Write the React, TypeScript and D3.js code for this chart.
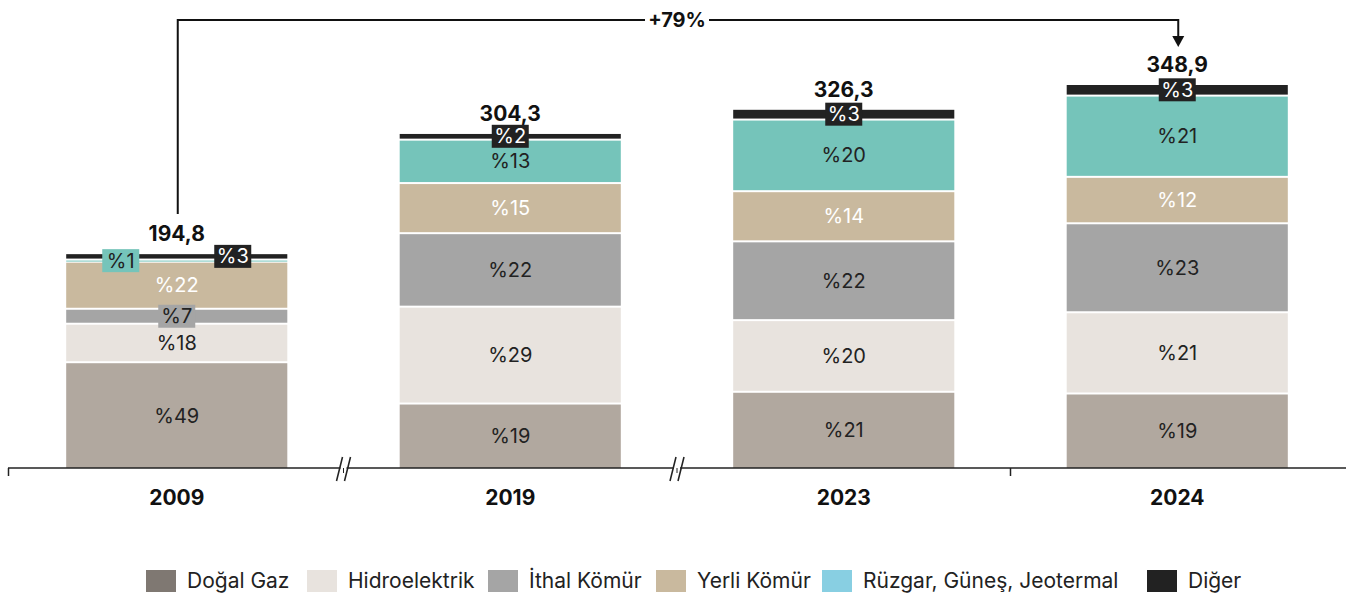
import React from "react";
import * as d3 from "d3";

const years = ["2009", "2019", "2023", "2024"];
const totals = [194.8, 304.3, 326.3, 348.9];
const totalLabels = ["194,8", "304,3", "326,3", "348,9"];
const dogalGaz = [49, 19, 21, 19];
const hidro = [18, 29, 20, 21];
const ithalKomur = [7, 22, 22, 23];
const yerliKomur = [22, 15, 14, 12];
const ruzgar = [1, 13, 20, 21];
const diger = [3, 2, 3, 3];
const seriesNames = ["Doğal Gaz", "Hidroelektrik", "İthal Kömür", "Yerli Kömür", "Rüzgar, Güneş, Jeotermal", "Diğer"];
const changeLabel = "+79%";

const seriesData = [dogalGaz, hidro, ithalKomur, yerliKomur, ruzgar, diger];
const barColors = ["#b1a89f", "#e8e3de", "#a5a5a5", "#c9b99e", "#75c4ba", "#222222"];
const legendColors = ["#7f7872", "#e8e3de", "#a5a5a5", "#c9b99e", "#88cfe2", "#222222"];
const labelColors = ["#222", "#222", "#222", "#fff", "#222", "#fff"];
const legendX = [146, 307, 488, 656, 822, 1147];

const FONT = "Inter, 'Noto Sans', sans-serif";

export default function App() {
  const baseline = 468;
  const x = d3.scaleBand<string>().domain(years).range([10, 1344]).paddingInner(0.337).paddingOuter(0.1685);
  const y = d3.scaleLinear().domain([0, 348.9]).range([baseline, 85]);
  const step = x.step();
  const bw = x.bandwidth();

  const bars: React.ReactNode[] = [];
  const labels: React.ReactNode[] = [];

  years.forEach((yr, j) => {
    const x0 = x(yr)!;
    const cx = x0 + bw / 2;
    const shares = seriesData.map((s) => s[j]);
    const sum = d3.sum(shares);
    let acc = 0;
    shares.forEach((p, i) => {
      const v0 = acc;
      const v1 = acc + (p / sum) * totals[j];
      acc = v1;
      const yTop = y(v1);
      const yBot = i === 0 ? y(v0) : y(v0) - 2;
      const h = Math.max(1, yBot - yTop);
      bars.push(<rect key={`b${j}-${i}`} x={x0} y={yTop} width={bw} height={h} fill={barColors[i]} />);
      const cy = (yTop + yBot) / 2;
      const txt = `%${p}`;
      const small = h < 16;
      let lx = cx;
      if (j === 0 && i === 4) lx = cx - 56;
      if (j === 0 && i === 5) lx = cx + 56;
      if (small) {
        const w = txt.length * 12 + 13;
        labels.push(
          <g key={`l${j}-${i}`}>
            <rect x={lx - w / 2} y={cy - 11.5} width={w} height={23} fill={barColors[i]} />
            <text x={lx} y={cy + 7} textAnchor="middle" fontSize={20} fill={labelColors[i]} fontFamily={FONT}>{txt}</text>
          </g>
        );
      } else {
        labels.push(
          <text key={`l${j}-${i}`} x={lx} y={cy + 7} textAnchor="middle" fontSize={20} fill={labelColors[i]} fontFamily={FONT}>{txt}</text>
        );
      }
    });
    labels.push(
      <text key={`t${j}`} x={cx} y={y(totals[j]) - 13} textAnchor="middle" fontSize={21} fontWeight={700} fill="#111" fontFamily={FONT}>{totalLabels[j]}</text>
    );
    labels.push(
      <text key={`y${j}`} x={cx} y={505} textAnchor="middle" fontSize={21} fontWeight={700} fill="#111" fontFamily={FONT}>{yr}</text>
    );
  });

  const x2009 = x(years[0])! + bw / 2 + 1;
  const x2024 = x(years[3])! + bw / 2 + 1;
  const breaks = [10 + step, 10 + step * 2];

  return (
    <svg width={1356} height={594} style={{ position: "absolute", left: 0, top: 0, display: "block" }}>
      <rect x={0} y={0} width={1356} height={594} fill="#fff" />
      {bars}
      {/* axis */}
      <line x1={8} x2={1346} y1={baseline} y2={baseline} stroke="#222" strokeWidth={1.5} />
      <line x1={8.5} x2={8.5} y1={baseline} y2={baseline + 8} stroke="#222" strokeWidth={1.5} />
      <line x1={10 + step * 3} x2={10 + step * 3} y1={baseline} y2={baseline + 8} stroke="#222" strokeWidth={1.5} />
      {breaks.map((bx, k) => (
        <g key={`br${k}`}>
          <rect x={bx - 3} y={baseline - 2} width={6} height={4} fill="#fff" />
          <line x1={bx - 7} y1={baseline + 13} x2={bx - 1} y2={baseline - 11} stroke="#222" strokeWidth={1.5} />
          <line x1={bx + 1} y1={baseline + 13} x2={bx + 7} y2={baseline - 11} stroke="#222" strokeWidth={1.5} />
          <line x1={bx} y1={baseline} x2={bx} y2={baseline + 5} stroke="#222" strokeWidth={1} />
        </g>
      ))}
      {labels}
      {/* change arrow */}
      <path d={`M${x2009},214 V20 H${x2024} V38`} fill="none" stroke="#111" strokeWidth={2} />
      <polygon points={`${x2024 - 6},36 ${x2024 + 6},36 ${x2024},47`} fill="#111" />
      <rect x={645} y={8} width={64} height={24} fill="#fff" />
      <text x={677} y={27} textAnchor="middle" fontSize={20} fontWeight={700} fill="#111" fontFamily={FONT}>{changeLabel}</text>
      {/* legend */}
      {seriesNames.map((n, i) => (
        <g key={`lg${i}`}>
          <rect x={legendX[i]} y={570} width={30} height={22} fill={legendColors[i]} />
          <text x={legendX[i] + 41} y={588} fontSize={21} fill="#222" fontFamily={FONT}>{n}</text>
        </g>
      ))}
    </svg>
  );
}
